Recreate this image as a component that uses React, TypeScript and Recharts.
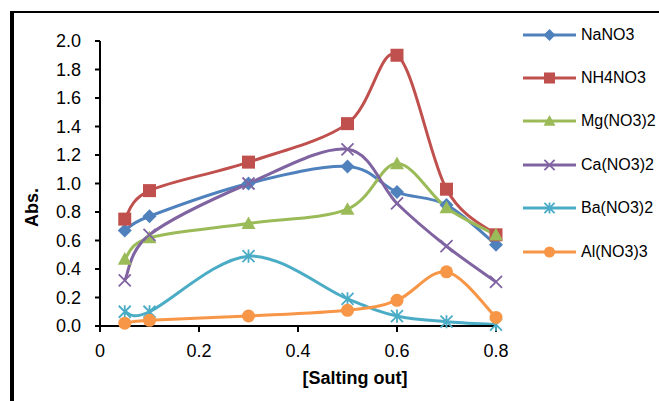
import React from "react";
import { Label, Legend, Line, LineChart, XAxis, YAxis } from "recharts";

// salt concentration on the x axis
const saltingOut = [0.05, 0.1, 0.3, 0.5, 0.6, 0.7, 0.8];

// absorbance per salt
const naNO3 = [0.67, 0.77, 1.0, 1.12, 0.94, 0.85, 0.57];
const nh4NO3 = [0.75, 0.95, 1.15, 1.42, 1.9, 0.96, 0.64];
const mgNO32 = [0.47, 0.62, 0.72, 0.82, 1.14, 0.83, 0.64];
const caNO32 = [0.32, 0.64, 1.0, 1.24, 0.86, 0.56, 0.31];
const baNO32 = [0.1, 0.1, 0.49, 0.19, 0.07, 0.03, 0.01];
const alNO33 = [0.02, 0.04, 0.07, 0.11, 0.18, 0.38, 0.06];

const xTicks = [0, 0.2, 0.4, 0.6, 0.8];
const yTicks = [0, 0.2, 0.4, 0.6, 0.8, 1.0, 1.2, 1.4, 1.6, 1.8, 2.0];

type Shape = "diamond" | "square" | "triangle" | "x" | "star" | "circle";

const series: { key: string; name: string; values: number[]; color: string; shape: Shape }[] = [
  { key: "na", name: "NaNO3", values: naNO3, color: "#4F81BD", shape: "diamond" },
  { key: "nh4", name: "NH4NO3", values: nh4NO3, color: "#C0504D", shape: "square" },
  { key: "mg", name: "Mg(NO3)2", values: mgNO32, color: "#9BBB59", shape: "triangle" },
  { key: "ca", name: "Ca(NO3)2", values: caNO32, color: "#8064A2", shape: "x" },
  { key: "ba", name: "Ba(NO3)2", values: baNO32, color: "#4BACC6", shape: "star" },
  { key: "al", name: "Al(NO3)3", values: alNO33, color: "#F79646", shape: "circle" },
];

const data = saltingOut.map((x, i) => {
  const row: Record<string, number> = { x };
  series.forEach((s) => {
    row[s.key] = s.values[i];
  });
  return row;
});

const FONT = '"Liberation Sans", Arial, sans-serif';

// Excel-style smoothed line: cubic bezier through every point, 1/6 tangents
const smoothCurve = (context: any) => {
  let pts: number[][] = [];
  return {
    areaStart() {},
    areaEnd() {},
    lineStart() {
      pts = [];
    },
    point(x: number, y: number) {
      pts.push([+x, +y]);
    },
    lineEnd() {
      const n = pts.length;
      if (!n) return;
      context.moveTo(pts[0][0], pts[0][1]);
      for (let i = 0; i < n - 1; i++) {
        const p0 = pts[Math.max(i - 1, 0)];
        const p1 = pts[i];
        const p2 = pts[i + 1];
        const p3 = pts[Math.min(i + 2, n - 1)];
        context.bezierCurveTo(
          p1[0] + (p2[0] - p0[0]) / 6,
          p1[1] + (p2[1] - p0[1]) / 6,
          p2[0] - (p3[0] - p1[0]) / 6,
          p2[1] - (p3[1] - p1[1]) / 6,
          p2[0],
          p2[1]
        );
      }
    },
  };
};

const Marker = ({ cx, cy, shape, color, scale = 1 }: { cx: number; cy: number; shape: Shape; color: string; scale?: number }) => {
  switch (shape) {
    case "diamond": {
      const r = 7 * scale;
      return <path d={`M${cx},${cy - r}L${cx + r},${cy}L${cx},${cy + r}L${cx - r},${cy}Z`} fill={color} />;
    }
    case "square": {
      const r = 6.5 * scale;
      return <rect x={cx - r} y={cy - r} width={2 * r} height={2 * r} fill={color} />;
    }
    case "triangle": {
      const r = 7 * scale;
      return <path d={`M${cx},${cy - r}L${cx + r},${cy + r * 0.8}L${cx - r},${cy + r * 0.8}Z`} fill={color} />;
    }
    case "x": {
      const r = 6 * scale;
      return (
        <path
          d={`M${cx - r},${cy - r}L${cx + r},${cy + r}M${cx + r},${cy - r}L${cx - r},${cy + r}`}
          stroke={color}
          strokeWidth={1.8}
          fill="none"
        />
      );
    }
    case "star": {
      const r = 6 * scale;
      return (
        <path
          d={`M${cx - r},${cy - r}L${cx + r},${cy + r}M${cx + r},${cy - r}L${cx - r},${cy + r}M${cx},${cy - r * 1.1}L${cx},${cy + r * 1.1}`}
          stroke={color}
          strokeWidth={1.8}
          fill="none"
        />
      );
    }
    default:
      return <circle cx={cx} cy={cy} r={6.5 * scale} fill={color} />;
  }
};

const renderLegend = () => (
  <div style={{ fontFamily: FONT, fontSize: 16, color: "#000" }}>
    {series.map((s) => (
      <div key={s.key} style={{ display: "flex", alignItems: "center", height: 43.4 }}>
        <svg width={56} height={20} style={{ display: "block" }}>
          <line x1={2} x2={55} y1={10} y2={10} stroke={s.color} strokeWidth={3} />
          <Marker cx={28.5} cy={10} shape={s.shape} color={s.color} scale={0.85} />
        </svg>
        <span style={{ marginLeft: 4, whiteSpace: "nowrap" }}>{s.name}</span>
      </div>
    ))}
  </div>
);

const App = () => (
  <div
    style={{
      position: "absolute",
      left: 0,
      top: 0,
      width: 659,
      height: 401,
      overflow: "hidden",
      background: "#fff",
      fontFamily: FONT,
    }}
  >
    <div
      style={{
        position: "absolute",
        left: 10,
        top: 11,
        width: 700,
        height: 450,
        borderTop: "2.5px solid #000",
        borderLeft: "4px solid #000",
      }}
    />
    <div style={{ position: "absolute", left: 0, top: 0 }}>
      <LineChart width={659} height={401} data={data} margin={{ top: 41, right: 163, bottom: 0, left: 0 }}>
        <XAxis
          dataKey="x"
          type="number"
          domain={[0, 0.8]}
          ticks={xTicks}
          tickFormatter={(v: number) => (v === 0 ? "0" : v.toFixed(1))}
          height={75}
          axisLine={{ stroke: "#000", strokeWidth: 2 }}
          tickLine={{ stroke: "#000", strokeWidth: 2 }}
          tickSize={6}
          tickMargin={12}
          tick={{ fill: "#000", fontSize: 18, fontFamily: FONT }}
        >
          <Label
            content={(props: any) => {
              const vb = props.viewBox;
              return (
                <text
                  x={vb.x + vb.width / 2 + 57}
                  y={vb.y + 58}
                  textAnchor="middle"
                  fontFamily={FONT}
                  fontSize={18}
                  fontWeight={700}
                  fill="#000"
                >
                  [Salting out]
                </text>
              );
            }}
          />
        </XAxis>
        <YAxis
          type="number"
          domain={[0, 2]}
          ticks={yTicks}
          tickFormatter={(v: number) => v.toFixed(1)}
          width={100}
          axisLine={{ stroke: "#000", strokeWidth: 2 }}
          tickLine={{ stroke: "#000", strokeWidth: 2 }}
          tickSize={5}
          tickMargin={14}
          tick={{ fill: "#000", fontSize: 18, fontFamily: FONT }}
        >
          <Label
            content={(props: any) => {
              const vb = props.viewBox;
              const cx = vb.x + 32;
              const cy = vb.y + vb.height / 2 + 24;
              return (
                <text
                  x={cx}
                  y={cy}
                  transform={`rotate(-90, ${cx}, ${cy})`}
                  textAnchor="middle"
                  dominantBaseline="central"
                  fontFamily={FONT}
                  fontSize={18}
                  fontWeight={700}
                  fill="#000"
                >
                  Abs.
                </text>
              );
            }}
          />
        </YAxis>
        <Legend
          layout="vertical"
          align="center"
          verticalAlign="middle"
          content={renderLegend}
          wrapperStyle={{ left: 521, top: 13, width: 160 }}
        />
        {series.map((s) => (
          <Line
            key={s.key}
            dataKey={s.key}
            name={s.name}
            type={smoothCurve as any}
            stroke={s.color}
            strokeWidth={3}
            isAnimationActive={false}
            activeDot={false}
            dot={(p: any) => <Marker key={`${s.key}-${p.index}`} cx={p.cx} cy={p.cy} shape={s.shape} color={s.color} />}
          />
        ))}
      </LineChart>
    </div>
  </div>
);

export default App;
